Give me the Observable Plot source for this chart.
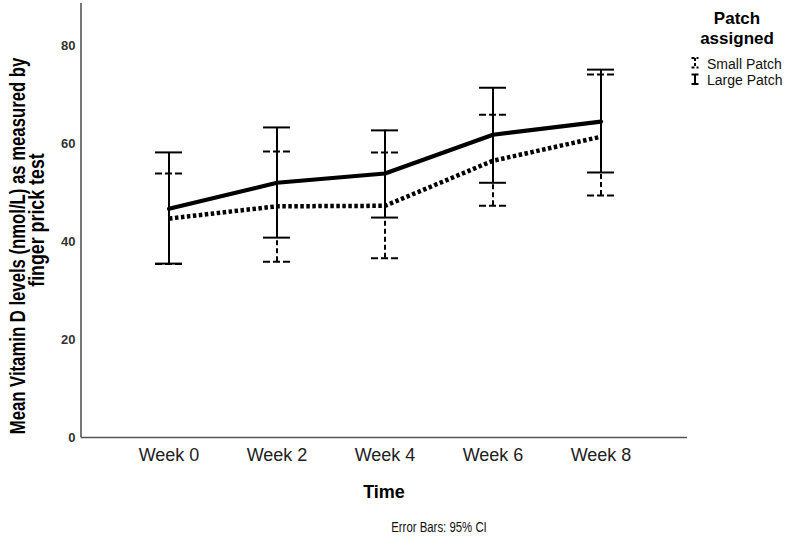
<!DOCTYPE html>
<html><head><meta charset="utf-8">
<script src="https://cdn.jsdelivr.net/npm/d3@7"></script>
<script src="https://cdn.jsdelivr.net/npm/@observablehq/plot@0.6"></script>
<style>body{margin:0;background:#fff} #chart{width:792px;height:536px}</style>
</head><body><div id="chart"></div>
<script>
const weeks = ["Week 0", "Week 2", "Week 4", "Week 6", "Week 8"];
const largeMean = [46.7, 52.0, 53.9, 61.8, 64.5];
const largeLow  = [35.5, 40.8, 44.9, 52.0, 54.1];
const largeHigh = [58.2, 63.3, 62.7, 71.4, 75.1];
const smallMean = [44.7, 47.2, 47.3, 56.5, 61.4];
const smallLow  = [35.4, 35.9, 36.6, 47.3, 49.4];
const smallHigh = [53.9, 58.4, 58.2, 65.9, 74.1];
const yTicks = [0, 20, 40, 60, 80];
const groups = ["Small Patch", "Large Patch"];

const small = weeks.map((w, i) => ({week: w, mean: smallMean[i], lo: smallLow[i], hi: smallHigh[i]}));
const large = weeks.map((w, i) => ({week: w, mean: largeMean[i], lo: largeLow[i], hi: largeHigh[i]}));

const W = 792, H = 536, mL = 81, mR = 105, mT = 3, mB = 99;

const leftAxisLine = (index, scales, values, dim) => {
  const g = d3.create("svg:g");
  g.append("line")
    .attr("x1", dim.marginLeft).attr("x2", dim.marginLeft)
    .attr("y1", dim.marginTop).attr("y2", dim.height - dim.marginBottom + 0.5)
    .attr("stroke", "#555").attr("stroke-width", 1.6);
  return g.node();
};

const plot = Plot.plot({
  width: W, height: H,
  marginLeft: mL, marginRight: mR, marginTop: mT, marginBottom: mB,
  style: {fontFamily: "'Liberation Sans', Arial, sans-serif", background: "#fff", color: "#000"},
  x: {type: "band", domain: weeks, paddingInner: 0.752, paddingOuter: 0.656},
  y: {domain: [0, 88.6]},
  marks: [
    Plot.ruleY([0], {stroke: "#555", strokeWidth: 1.6}),
    leftAxisLine,
    Plot.axisY(yTicks, {tickSize: 0, tickPadding: 6, fontSize: 13, fontWeight: "bold", fill: "#333", label: null}),
    Plot.axisX({tickSize: 0, tickPadding: 11, fontSize: 18, fill: "#222", label: null}),
    // Small patch error bars (dashed)
    Plot.ruleX(small, {x: "week", y1: "lo", y2: "hi", stroke: "#000", strokeWidth: 2, strokeDasharray: "5,3"}),
    Plot.tickY(small, {x: "week", y: "hi", stroke: "#000", strokeWidth: 2, strokeDasharray: "7,3"}),
    Plot.tickY(small, {x: "week", y: "lo", stroke: "#000", strokeWidth: 2, strokeDasharray: "7,3"}),
    // Large patch error bars (solid)
    Plot.ruleX(large, {x: "week", y1: "lo", y2: "hi", stroke: "#000", strokeWidth: 2}),
    Plot.tickY(large, {x: "week", y: "hi", stroke: "#000", strokeWidth: 2}),
    Plot.tickY(large, {x: "week", y: "lo", stroke: "#000", strokeWidth: 2}),
    // Mean lines
    Plot.line(small, {x: "week", y: "mean", stroke: "#000", strokeWidth: 4.5, strokeDasharray: "3.5,2.5", strokeLinecap: "butt", strokeLinejoin: "miter"}),
    Plot.line(large, {x: "week", y: "mean", stroke: "#000", strokeWidth: 4.2})
  ]
});

const svg = d3.select(plot);
const font = "'Liberation Sans', Arial, sans-serif";

function addText(t, tr, size, weight, anchor, fill) {
  svg.append("text").text(t).attr("transform", tr)
    .attr("font-family", font).attr("font-size", size).attr("font-weight", weight)
    .attr("text-anchor", anchor).attr("fill", fill || "#000");
}

// Y axis title (condensed bold)
addText("Mean Vitamin D levels (nmol/L) as measured by", "translate(25,246) rotate(-90) scale(0.76,1)", 22, "bold", "middle");
addText("finger prick test", "translate(44,220) rotate(-90) scale(0.81,1)", 22, "bold", "middle");
// X axis title
addText("Time", `translate(${(mL + W - mR) / 2},498)`, 18, "bold", "middle");
// Footnote
addText("Error Bars: 95% CI", "translate(439,532) scale(0.76,1)", 15, "normal", "middle", "#111");

// Legend
addText("Patch", "translate(737,24)", 17, "bold", "middle");
addText("assigned", "translate(737,44)", 17, "bold", "middle");
const legendY = [68.5, 85];
groups.forEach((gname, i) => {
  addText(gname, `translate(707,${legendY[i]})`, 14, "normal", "start", "#111");
  const top = legendY[i] - 10.5, bot = legendY[i] - 1, cx = 695;
  const dash = i === 0 ? "3,2" : null;
  const g = svg.append("g").attr("stroke", "#000").attr("stroke-width", 2);
  g.append("line").attr("x1", cx - 3.5).attr("x2", cx + 3.5).attr("y1", top).attr("y2", top).attr("stroke-dasharray", dash);
  g.append("line").attr("x1", cx - 3.5).attr("x2", cx + 3.5).attr("y1", bot).attr("y2", bot).attr("stroke-dasharray", dash);
  g.append("line").attr("x1", cx).attr("x2", cx).attr("y1", top).attr("y2", bot).attr("stroke-dasharray", dash);
});

document.getElementById("chart").appendChild(plot);
</script>
</body></html>
